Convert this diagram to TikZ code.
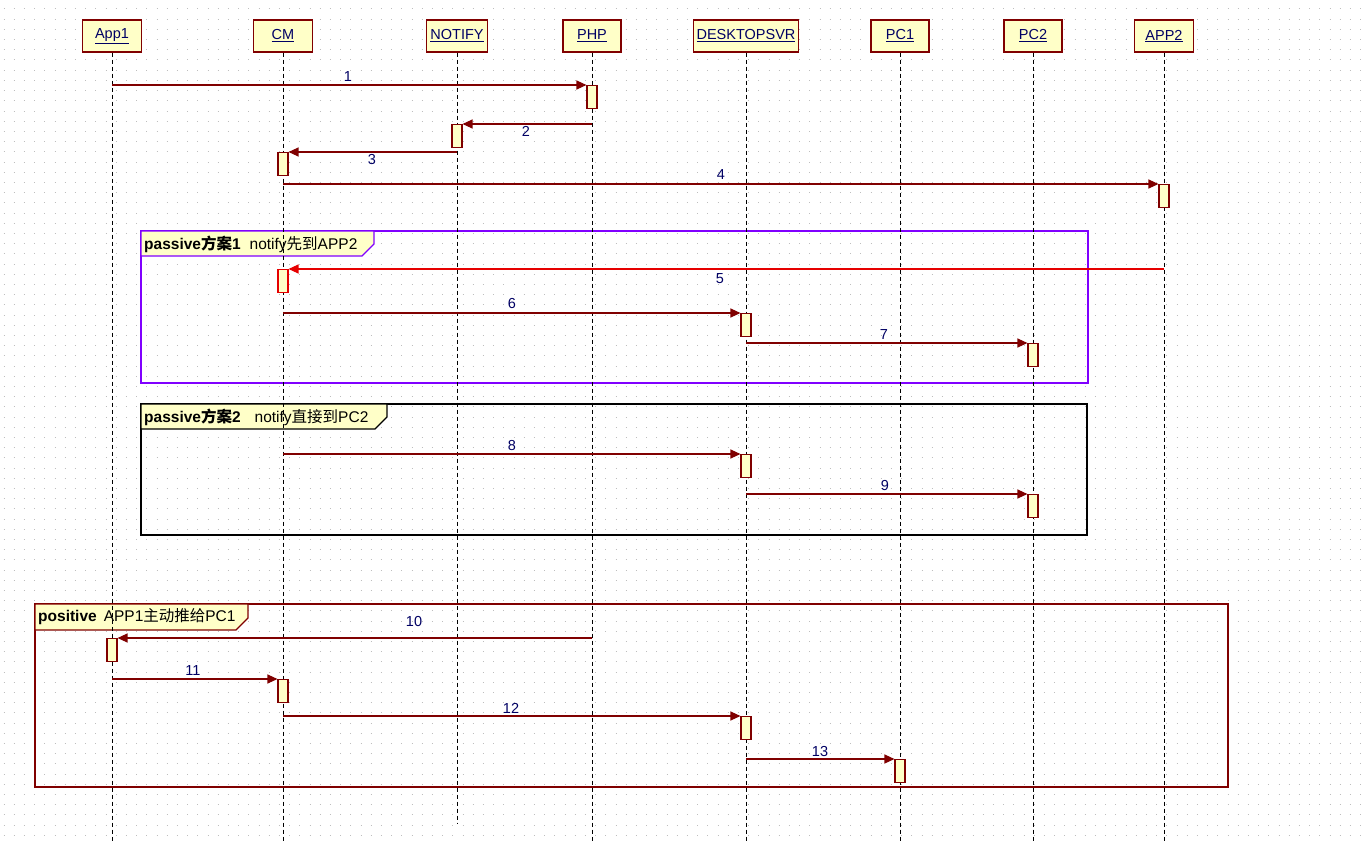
\documentclass[tikz,border=0pt]{standalone}
\usepackage{fontspec}
\setmainfont{Liberation Sans}
\newfontfamily\cjk{Noto Sans CJK SC}
\usetikzlibrary{arrows.meta}
\definecolor{dred}{RGB}{128,0,0}
\definecolor{notefill}{RGB}{255,255,200}
\definecolor{purp}{RGB}{128,0,255}
\definecolor{msgred}{RGB}{230,0,0}
\definecolor{lbl}{RGB}{0,0,100}
\definecolor{dotc}{RGB}{190,190,190}
\tikzset{
  head/.style={draw=dred, fill=notefill, line width=1.2pt, minimum height=32pt, inner sep=0pt,
    font=\fontsize{14.5}{16}\selectfont, text=lbl},
  act/.style={draw=dred, fill=notefill, line width=1.1pt, minimum width=10pt, minimum height=23pt,
    inner sep=0pt, anchor=north},
  life/.style={line width=1pt, dash pattern=on 4pt off 3pt},
  msg/.style={draw=dred, line width=1.2pt, -{Triangle[length=10pt,width=9pt]}},
  num/.style={text=lbl, font=\fontsize{14.5}{16}\selectfont, inner sep=0pt},
  frm/.style={line width=1.25pt},
  tabtext/.style={font=\fontsize{15.5}{17}\selectfont, inner sep=0pt, anchor=west, text=black}
}
\begin{document}
\begin{tikzpicture}[x=1pt,y=-1pt]
\useasboundingbox (0,0) rectangle (1370,843);
\fill[white] (0,0) rectangle (1370,843);
% dot grid
\foreach \j in {0,...,82}{
  \draw[dotc, line width=1pt, dash pattern=on 1pt off 9.2pt] ({3.5},{9+10.2*\j}) -- (1370,{9+10.2*\j});
}
% frames
\draw[frm, draw=purp] (141,231) rectangle (1088,383);
\filldraw[frm, draw=purp, fill=notefill] (141,231) -- (374,231) -- (374,244) -- (362,256) -- (141,256) -- cycle;
\node[tabtext] (t1) at (144,244) {{\bfseries passive{\cjk 方案}1}\hspace{9pt}notify{\cjk 先到}APP2};

\draw[frm, draw=black] (141,404) rectangle (1087,535);
\filldraw[frm, draw=black, fill=notefill] (141,404) -- (387,404) -- (387,417) -- (375,429) -- (141,429) -- cycle;
\node[tabtext] (t2) at (144,417) {{\bfseries passive{\cjk 方案}2}\hspace{14pt}notify{\cjk 直接到}PC2};

\draw[frm, draw=dred] (35,604) rectangle (1228,787);
\filldraw[frm, draw=dred, fill=notefill] (35,604) -- (248,604) -- (248,618) -- (236,630) -- (35,630) -- cycle;
\node[tabtext] (t3) at (38,617) {{\bfseries positive}\hspace{7pt}APP1{\cjk 主动推给}PC1};

% headers
\node[head, minimum width=59pt] (app1) at (112,36) {\underline{App1}};
\node[head, minimum width=59pt] (cm) at (283,36) {\underline{CM}};
\node[head, minimum width=61pt] (notify) at (457,36) {\underline{NOTIFY}};
\node[head, minimum width=58pt] (php) at (592,36) {\underline{PHP}};
\node[head, minimum width=105pt] (dsvr) at (746,36) {\underline{DESKTOPSVR}};
\node[head, minimum width=58pt] (pc1) at (900,36) {\underline{PC1}};
\node[head, minimum width=58pt] (pc2) at (1033,36) {\underline{PC2}};
\node[head, minimum width=59pt] (app2) at (1164,36) {\underline{APP2}};

\coordinate (bot) at (0,843);
\coordinate (nbot) at (0,823);
% lifelines
\draw[life] (app1.south) -- (app1.south |- bot);
\draw[life] (cm.south) -- (cm.south |- bot);
\draw[life] (notify.south) -- (notify.south |- nbot);
\draw[life] (php.south) -- (php.south |- bot);
\draw[life] (dsvr.south) -- (dsvr.south |- bot);
\draw[life] (pc1.south) -- (pc1.south |- bot);
\draw[life] (pc2.south) -- (pc2.south |- bot);
\draw[life] (app2.south) -- (app2.south |- bot);

% activations
\node[act] (a1) at (592,85) {};
\node[act] (a2) at (457,124) {};
\node[act] (a3) at (283,152) {};
\node[act] (a4) at (1164,184) {};
\node[act, draw=msgred] (a5) at (283,269) {};
\node[act] (a6) at (746,313) {};
\node[act] (a7) at (1033,343) {};
\node[act] (a8) at (746,454) {};
\node[act] (a9) at (1033,494) {};
\node[act] (a10) at (112,638) {};
\node[act] (a11) at (283,679) {};
\node[act] (a12) at (746,716) {};
\node[act] (a13) at (900,759) {};

% messages
\draw[msg] (app1 |- a1.north) -- (a1.north west);
\draw[msg] (php |- a2.north) -- (a2.north east);
\draw[msg] (notify |- a3.north) -- (a3.north east);
\draw[msg] (cm |- a4.north) -- (a4.north west);
\draw[msg, draw=msgred] (app2 |- a5.north) -- (a5.north east);
\draw[msg] (cm |- a6.north) -- (a6.north west);
\draw[msg] (dsvr |- a7.north) -- (a7.north west);
\draw[msg] (cm |- a8.north) -- (a8.north west);
\draw[msg] (dsvr |- a9.north) -- (a9.north west);
\draw[msg] (php |- a10.north) -- (a10.north east);
\draw[msg] (app1 |- a11.north) -- (a11.north west);
\draw[msg] (cm |- a12.north) -- (a12.north west);
\draw[msg] (dsvr |- a13.north) -- (a13.north west);

% message labels
\node[num] (n1) at (348,77) {1};
\node[num] (n2) at (526,131) {2};
\node[num] (n3) at (372,160) {3};
\node[num] (n4) at (721,175) {4};
\node[num] (n5) at (720,279) {5};
\node[num] (n6) at (512,304) {6};
\node[num] (n7) at (884,335) {7};
\node[num] (n8) at (512,446) {8};
\node[num] (n9) at (885,486) {9};
\node[num] (n10) at (414,622) {10};
\node[num] (n11) at (193,671) {11};
\node[num] (n12) at (511,708) {12};
\node[num] (n13) at (820,751) {13};
\end{tikzpicture}
\end{document}
